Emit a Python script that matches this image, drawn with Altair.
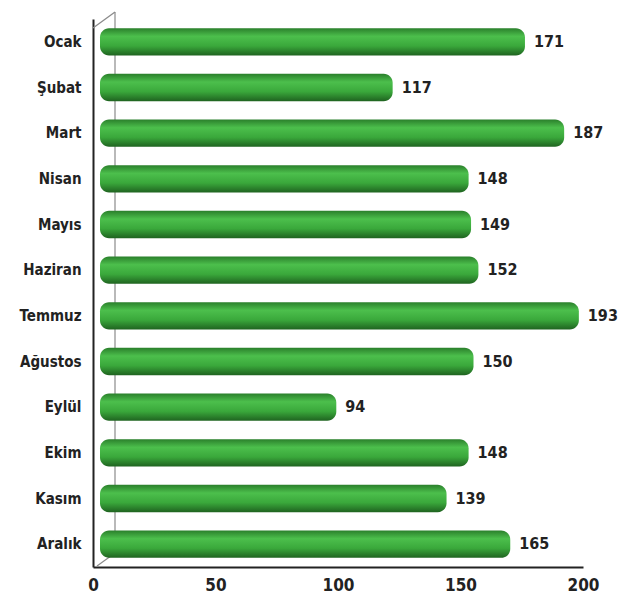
import altair as alt
import pandas as pd

months = ["Ocak", "Şubat", "Mart", "Nisan", "Mayıs", "Haziran", "Temmuz",
          "Ağustos", "Eylül", "Ekim", "Kasım", "Aralık"]
values = [171, 117, 187, 148, 149, 152, 193, 150, 94, 148, 139, 165]
x_ticks = [0, 50, 100, 150, 200]

df = pd.DataFrame({"month": months, "value": values})

FONT = "DejaVu Sans Condensed, Liberation Sans Narrow, Roboto Condensed, sans-serif"

x_enc = alt.X("value:Q", scale=alt.Scale(domain=[0, 200], nice=False),
              axis=alt.Axis(values=x_ticks, title=None, grid=False, ticks=False,
                            domainColor="#222", domainWidth=2, labelFont=FONT,
                            labelFontSize=17, labelFontWeight="bold", labelColor="#222",
                            labelPadding=10, labelFlush=False))
y_enc = alt.Y("month:N", sort=months, scale=alt.Scale(paddingInner=0.4, paddingOuter=0.2),
              axis=alt.Axis(title=None, ticks=False, domainColor="#222", domainWidth=2,
                            labelFont=FONT, labelFontSize=15, labelFontWeight="bold",
                            labelColor="#222", labelPadding=12))

grad = alt.Gradient(gradient="linear", x1=0, x2=0, y1=0, y2=1,
                    stops=[alt.GradientStop(color="#2a7f2b", offset=0),
                           alt.GradientStop(color="#4cbf4c", offset=0.3),
                           alt.GradientStop(color="#3aa83b", offset=0.65),
                           alt.GradientStop(color="#1f6320", offset=1)])

bars = alt.Chart(df).mark_bar(color=grad, cornerRadius=9, xOffset=13, x2Offset=7).encode(
    x=x_enc, x2=alt.datum(0), y=y_enc)

labels = alt.Chart(df).mark_text(align="left", baseline="middle", dx=22, font=FONT,
                                 fontSize=16, fontWeight="bold", color="#222").encode(
    x="value:Q", y=alt.Y("month:N", sort=months), text="value:Q")

frame_df = pd.DataFrame({"k": ["back"]})
back = alt.Chart(frame_df).mark_rule(color="#8a8a8a", strokeWidth=1.2).encode(
    x=alt.value(22), y=alt.value(-7), y2=alt.value(534))
top_diag = alt.Chart(frame_df).mark_rule(color="#8a8a8a", strokeWidth=1.2).encode(
    x=alt.value(0), y=alt.value(9), x2=alt.value(22), y2=alt.value(-7))
bot_diag = alt.Chart(frame_df).mark_rule(color="#8a8a8a", strokeWidth=1.2).encode(
    x=alt.value(4), y=alt.value(547), x2=alt.value(22), y2=alt.value(534))

chart = alt.layer(back, top_diag, bot_diag, bars, labels).properties(
    width=490, height=548,
    autosize=alt.AutoSizeParams(type="none"),
    padding={"left": 93, "top": 19, "right": 37, "bottom": 37},
    background="white"
).configure_view(stroke=None)

chart.save("out.html", embed_options={"renderer": "svg", "actions": False})
